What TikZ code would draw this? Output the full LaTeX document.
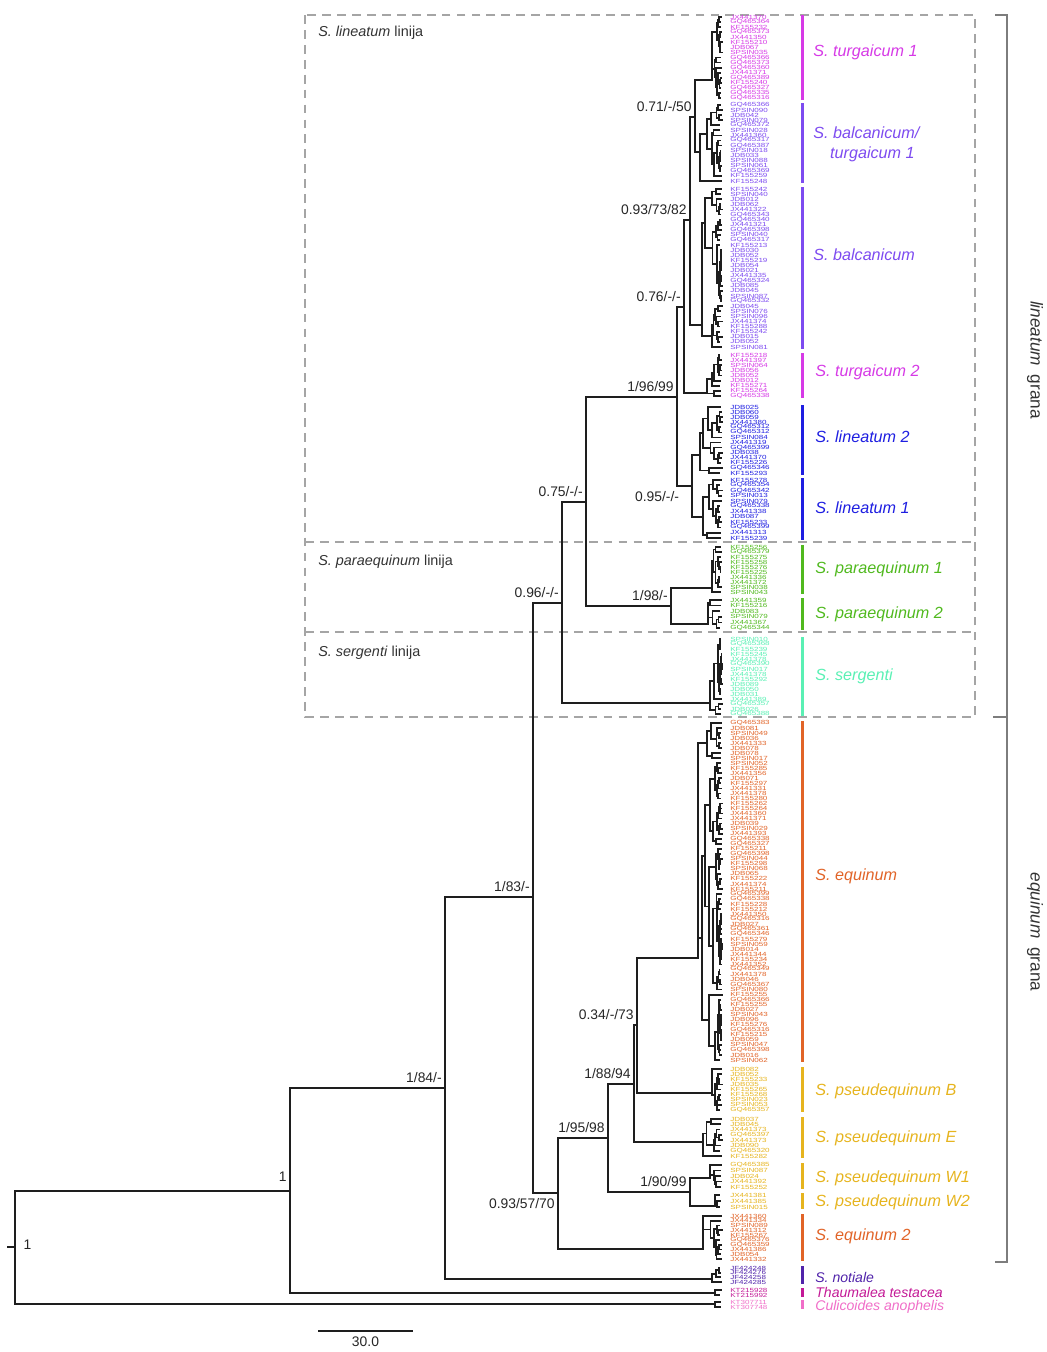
\documentclass[tikz,border=0pt]{standalone}
\usepackage{fontspec}
\setmainfont{Liberation Sans}
\newfontfamily\tipfont[FakeStretch=1.35]{Liberation Sans}
\usepackage{tikz}
\usetikzlibrary{positioning,calc}
\definecolor{brc}{RGB}{30,30,30}
\definecolor{boxgray}{RGB}{165,165,165}
\definecolor{brgray}{RGB}{125,125,125}
\definecolor{turg}{RGB}{214,58,230}
\definecolor{balc}{RGB}{125,75,240}
\definecolor{lineat}{RGB}{30,30,225}
\definecolor{parae}{RGB}{80,185,30}
\definecolor{serg}{RGB}{90,240,180}
\definecolor{equi}{RGB}{225,100,40}
\definecolor{pseu}{RGB}{230,180,30}
\definecolor{noti}{RGB}{80,35,170}
\definecolor{thau}{RGB}{195,25,150}
\definecolor{culi}{RGB}{240,110,200}
\newcommand{\tipx}{722}
% one subtree: parent x, node x, first tip, last tip (attach y back in \ya)
\newcommand{\subtree}[4]{%
  \begingroup
  \ifnum#3=#4\relax
    \pgfmathsetmacro\trY{\cyt+#3*\cdy}%
    \pgfmathsetmacro\trE{max(#1,\tipx-3*rnd)}%
    \draw[branch] (#1,\trY) -- (\trE,\trY);%
    \pgfmathtruncatemacro\trK{random(0,4)}%
    \pgfmathtruncatemacro\trN{random(10,99)}%
    \ifx\fixpre\empty
      \edef\trPre{\ifcase\trK JDB0\or KF1552\or GQ4653\or JX4413\else SPSIN0\fi}%
    \else
      \let\trPre\fixpre
    \fi
    \node[tiplab] at (\tipx,\trY) {\trPre\trN};%
    \xdef\ya{\trY}%
  \else
    \pgfmathtruncatemacro\trM{#3+random(0,#4-#3-1)}%
    \pgfmathtruncatemacro\trMb{\trM+1}%
    \pgfmathsetmacro\trXa{#2+(\tipx-#2)*(0.12+0.4*rnd)}%
    \pgfmathsetmacro\trXb{#2+(\tipx-#2)*(0.12+0.4*rnd)}%
    \edef\trCall{\noexpand\subtree{#2}{\trXa}{#3}{\trM}}\trCall
    \let\trYa\ya
    \edef\trCall{\noexpand\subtree{#2}{\trXb}{\trMb}{#4}}\trCall
    \let\trYb\ya
    \pgfmathsetmacro\trY{(\trYa+\trYb)/2}%
    \draw[branch] (#2,\trYa) -- (#2,\trYb);%
    \draw[branch] (#1,\trY) -- (#2,\trY);%
    \xdef\ya{\trY}%
  \fi
  \endgroup}
% name, root x, attach y, first tip y, last tip y, tips, colour, prefix
\newcommand{\clade}[8]{%
  \coordinate (#1) at (#2,#3);
  \begingroup
  \def\cyt{#4}\def\fixpre{#8}\colorlet{tipcol}{#7}%
  \pgfmathsetmacro\cdy{(#5-#4)/(#6-1)}%
  \pgfmathtruncatemacro\trL{#6-1}%
  \edef\trCall{\noexpand\subtree{#2}{#2}{0}{\trL}}\trCall
  \pgfmathsetmacro\trLo{min(\ya,#3)}\pgfmathsetmacro\trHi{max(\ya,#3)}%
  \draw[branch] (#2,\trLo) -- (#2,\trHi);
  \draw[bar,draw=#7] (802,#4-2) -- (802,#5+2);
  \endgroup}
\begin{document}
\begin{tikzpicture}[x=0.02cm, y=-0.02cm,
    branch/.style={draw=brc, line width=1pt, line cap=rect},
    tiplab/.style={anchor=west, inner sep=0pt, xshift=4.5pt, text=tipcol, font=\tipfont\fontsize{3.4}{3.4}\selectfont},
    bar/.style={line width=1.7pt},
    support/.style={font=\fontsize{7.9}{9}\selectfont, inner xsep=1.7pt, inner ysep=3pt, text depth=0pt, text=black!85},
    cladelab/.style={anchor=west, inner sep=0pt, font=\fontsize{9.2}{11.3}\selectfont\itshape},
    smalllab/.style={cladelab, font=\fontsize{8}{9}\selectfont\itshape},
    boxlab/.style={anchor=west, inner sep=0pt, text=black!80, font=\fontsize{8.2}{10}\selectfont},
    dashbox/.style={draw=boxgray, line width=0.85pt, dash pattern=on 5pt off 3.5pt},
    bracket/.style={draw=brgray, line width=0.85pt},
    grlab/.style={font=\fontsize{9.8}{12}\selectfont, text=black!80}]
\useasboundingbox (0,0) rectangle (1046,1352);
\pgfmathsetseed{11}
% lineages
\draw[dashbox] (305,15) rectangle (975,717);
\draw[dashbox] (305,542) -- (975,542);
\draw[dashbox] (305,632) -- (975,632);
\node[boxlab] (box-lin) at (318,33) {\textit{S. lineatum} linija};
\node[boxlab] (box-par) at (318,562) {\textit{S. paraequinum} linija};
\node[boxlab] (box-ser) at (318,653) {\textit{S. sergenti} linija};
% backbone
\coordinate (root) at (15,1247);
\coordinate (nIn) at (290,1191);
\coordinate (nSim) at (445,1088);
\coordinate (nGrp) at (533,897);
\coordinate (nLinGr) at (562,603);
\coordinate (nLinPar) at (586,502);
\coordinate (nLinBal) at (677,397);
\coordinate (nBalT) at (684,307);
\coordinate (nBal) at (690,220);
\coordinate (nTurg) at (695,117);
\coordinate (nLin) at (692,486);
\coordinate (nPar) at (671,606);
\coordinate (nEquGr) at (558,1193);
\coordinate (nPse) at (608,1138);
\coordinate (nPseB) at (634,1084);
\coordinate (nEquB) at (637,1025);
\coordinate (nPseW) at (690,1192);
% clades
\clade{c-t1}{712}{80}{17}{98}{17}{turg}{}
\clade{c-bt1}{700}{152}{105}{181}{16}{balc}{}
\clade{c-balc}{702}{325}{189}{347}{32}{balc}{}
\clade{c-t2}{707}{393}{355}{396}{9}{turg}{}
\clade{c-l2}{700}{455}{407}{473}{14}{lineat}{}
\clade{c-l1}{703}{517}{480}{538}{12}{lineat}{}
\clade{c-p1}{712}{588}{547}{592}{10}{parae}{}
\clade{c-p2}{708}{624}{600}{628}{6}{parae}{}
\clade{c-serg}{710}{703}{639}{714}{16}{serg}{}
\clade{c-equ}{698}{958}{723}{1060}{68}{equi}{}
\clade{c-pb}{712}{1093}{1069}{1110}{9}{pseu}{}
\clade{c-pe}{703}{1142}{1119}{1156}{8}{pseu}{}
\clade{c-w1}{710}{1178}{1165}{1187}{5}{pseu}{}
\clade{c-w2}{715}{1206}{1195}{1207}{3}{pseu}{}
\clade{c-e2}{703}{1249}{1216}{1259}{10}{equi}{}
\clade{c-not}{712}{1279}{1268}{1282}{4}{noti}{JF4242}
\clade{c-thau}{715}{1293}{1290}{1295}{2}{thau}{KT2159}
\clade{c-culi}{715}{1304}{1302}{1307}{2}{culi}{KT3077}
\foreach \a/\b in {root/nIn, root/c-culi, nIn/nSim, nIn/c-thau, nSim/nGrp, nSim/c-not,
    nGrp/nLinGr, nGrp/nEquGr, nLinGr/nLinPar, nLinGr/c-serg, nLinPar/nLinBal, nLinPar/nPar,
    nLinBal/nBalT, nLinBal/nLin, nBalT/nBal, nBalT/c-t2, nBal/nTurg, nBal/c-balc,
    nTurg/c-t1, nTurg/c-bt1, nLin/c-l2, nLin/c-l1, nPar/c-p1, nPar/c-p2,
    nEquGr/nPse, nEquGr/c-e2, nPse/nPseB, nPse/nPseW, nPseB/nEquB, nPseB/c-pe,
    nEquB/c-equ, nEquB/c-pb, nPseW/c-w1, nPseW/c-w2}
  \draw[branch] (\a) |- (\b);
\draw[branch] (root) -- ++(-7,0);
% support values
\node[support, right=3pt of root, yshift=1.5pt] (s-root) {1};
\node[support, above left=0pt of nIn, yshift=2pt] (s-in) {1};
\node[support, above left=0pt of nSim] (s-sim) {1/84/-};
\node[support, above left=0pt of nGrp] (s-grp) {1/83/-};
\node[support, above left=0pt of nLinGr] (s-lingr) {0.96/-/-};
\node[support, above left=0pt of nLinPar] (s-linpar) {0.75/-/-};
\node[support, above left=0pt of nLinBal] (s-linbal) {1/96/99};
\node[support, above left=0pt of nBalT] (s-balt) {0.76/-/-};
\node[support, above left=0pt of nBal] (s-bal) {0.93/73/82};
\node[support, above left=0pt of nTurg] (s-turg) {0.71/-/50};
\node[support, below left=0pt and 5.5pt of nLin] (s-lin) {0.95/-/-};
\node[support, above left=0pt of nPar] (s-par) {1/98/-};
\node[support, below left=0pt of nEquGr] (s-equgr) {0.93/57/70};
\node[support, above left=0pt of nPse] (s-pse) {1/95/98};
\node[support, above left=0pt of nPseB] (s-pseb) {1/88/94};
\node[support, above left=0pt of nEquB] (s-equb) {0.34/-/73};
\node[support, above left=0pt of nPseW] (s-psew) {1/90/99};
% clade names
\node[cladelab, text=turg] (l-t1) at (813,52) {S. turgaicum 1};
\node[cladelab, text=balc, align=left] (l-bt1) at (813,144) {S. balcanicum/\\\hspace*{9.6pt}turgaicum 1};
\node[cladelab, text=balc] (l-balc) at (813,255) {S. balcanicum};
\node[cladelab, text=turg] (l-t2) at (815,372) {S. turgaicum 2};
\node[cladelab, text=lineat] (l-l2) at (815,437) {S. lineatum 2};
\node[cladelab, text=lineat] (l-l1) at (815,508) {S. lineatum 1};
\node[cladelab, text=parae] (l-p1) at (815,569) {S. paraequinum 1};
\node[cladelab, text=parae] (l-p2) at (815,614) {S. paraequinum 2};
\node[cladelab, text=serg] (l-serg) at (815,676) {S. sergenti};
\node[cladelab, text=equi] (l-equ) at (815,876) {S. equinum};
\node[cladelab, text=pseu] (l-pb) at (815,1091) {S. pseudequinum B};
\node[cladelab, text=pseu] (l-pe) at (815,1138) {S. pseudequinum E};
\node[cladelab, text=pseu] (l-w1) at (815,1178) {S. pseudequinum W1};
\node[cladelab, text=pseu] (l-w2) at (815,1202) {S. pseudequinum W2};
\node[cladelab, text=equi] (l-e2) at (815,1236) {S. equinum 2};
\node[smalllab, text=noti] (l-not) at (815,1277) {S. notiale};
\node[smalllab, text=thau] (l-thau) at (815,1292) {Thaumalea testacea};
\node[smalllab, text=culi] (l-culi) at (815,1307) {Culicoides anophelis};
% groups
\draw[bracket] (995,15) -- (1007,15) -- (1007,1262) -- (995,1262);
\draw[bracket] (993,717) -- (1007,717);
\node[grlab, rotate=-90] (g-lin) at (1035,360) {\textit{lineatum}\enspace grana};
\node[grlab, rotate=-90] (g-equ) at (1035,932) {\textit{equinum}\enspace grana};
% scale
\coordinate (sc-a) at (318,1331);
\coordinate (sc-b) at (413,1331);
\draw[branch, line cap=butt] (sc-a) -- (sc-b);
\node[support, below=0pt of $(sc-a)!0.5!(sc-b)$] (sc-lab) {30.0};
\end{tikzpicture}
\end{document}
